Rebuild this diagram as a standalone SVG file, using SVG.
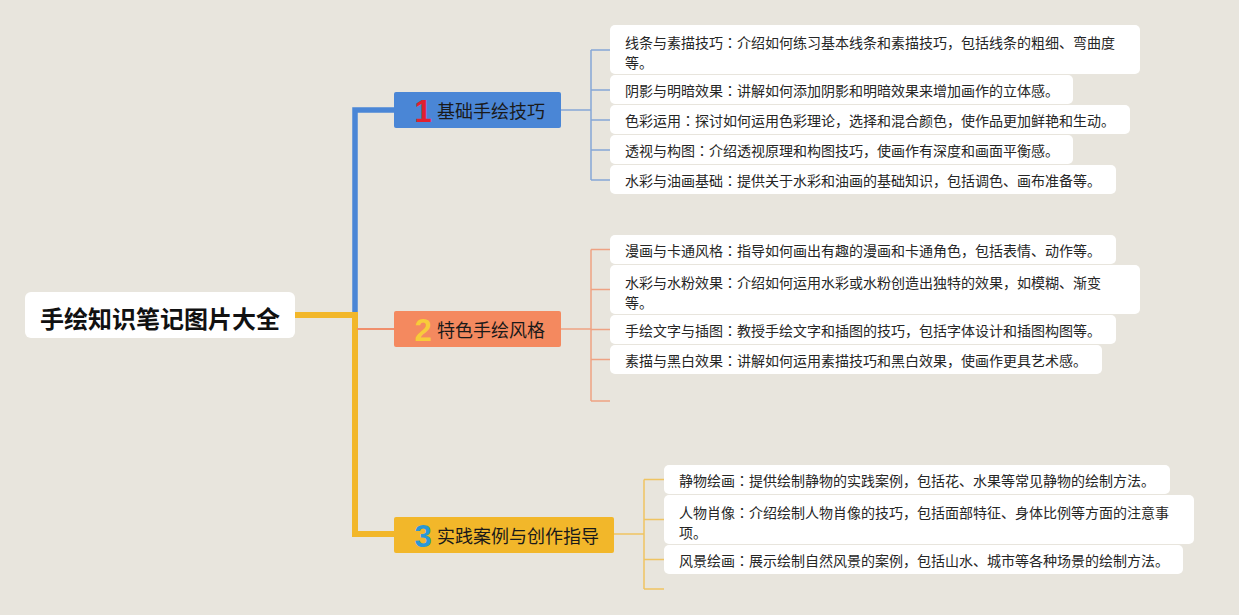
<svg xmlns="http://www.w3.org/2000/svg" width="1239" height="615" viewBox="0 0 1239 615">
<style>
.bg{fill:#e8e5dd}
.leaf{fill:#ffffff}
.lt{font-family:"Noto Sans CJK SC","Noto Sans",sans-serif;font-size:14px;fill:#262626;dominant-baseline:central}
.co{font-family:"Noto Sans CJK JP","Noto Sans CJK SC",sans-serif}
.bt{font-family:"Noto Sans CJK SC","Noto Sans",sans-serif;font-size:18px;fill:#1a1a1a;dominant-baseline:central}
.num{font-family:"Liberation Sans","DejaVu Sans",sans-serif;font-size:31px;font-weight:bold;text-anchor:middle;dominant-baseline:central}
.rt{font-family:"Noto Sans CJK SC","Noto Sans",sans-serif;font-size:24px;font-weight:bold;fill:#111;text-anchor:middle;dominant-baseline:central}
.c1{stroke:#85a6d6;stroke-width:1.5;fill:none}
.c2{stroke:#eea283;stroke-width:1.5;fill:none}
.c3{stroke:#efc462;stroke-width:1.5;fill:none}
</style>
<rect class="bg" x="0" y="0" width="1239" height="615"/>
<g id="connectors">
<polyline points="355,315 355,110 394,110" stroke="#4a86d6" stroke-width="5.5" fill="none"/>
<polyline points="295,315 355,315 355,534 394,534" stroke="#f2b72a" stroke-width="6" fill="none"/>
<line x1="357" y1="329" x2="394" y2="329" stroke="#f08f6c" stroke-width="2"/>
<path class="c1" d="M561,110H591M591,50V180M591,50H610M591,90H610M591,120H610M591,150H610M591,180H610"/>
<path class="c2" d="M561,329H591M591,249.5V401M591,249.5H610M591,289.5H610M591,329.5H610M591,359.5H610M591,401H610"/>
<path class="c3" d="M614,534H644M644,479.5V589M644,479.5H664M644,519.5H664M644,559.5H664M644,589H664"/>
</g>
<g id="root">
<rect x="25" y="292" width="270" height="46" rx="6" fill="#ffffff"/>
<text class="rt" x="160" y="317">手绘知识笔记图片大全</text>
</g>
<g id="branch1">
<rect x="394" y="92" width="167" height="36" rx="2" fill="#4a86d6"/>
<text class="num" x="423" y="111" fill="#e02030">1</text>
<text class="bt" x="437" y="110">基础手绘技巧</text>
</g>
<g id="branch2">
<rect x="394" y="311" width="167" height="36" rx="2" fill="#f4895f"/>
<text class="num" x="423" y="330" fill="#f8cb3a">2</text>
<text class="bt" x="437" y="329">特色手绘风格</text>
</g>
<g id="branch3">
<rect x="394" y="517" width="220" height="36" rx="2" fill="#f2b72a"/>
<text class="num" x="423" y="536" fill="#2a98d6">3</text>
<text class="bt" x="437" y="535">实践案例与创作指导</text>
</g>
<g id="n1a"><rect class="leaf" x="610" y="25" width="530" height="49" rx="5"/><text class="lt" x="625" y="42">线条与素描技巧<tspan class="co">：</tspan>介绍如何练习基本线条和素描技巧，包括线条的粗细、弯曲度</text><text class="lt" x="625" y="62">等。</text></g>
<g id="n1b"><rect class="leaf" x="610" y="75" width="463" height="29" rx="5"/><text class="lt" x="625" y="90">阴影与明暗效果<tspan class="co">：</tspan>讲解如何添加阴影和明暗效果来增加画作的立体感。</text></g>
<g id="n1c"><rect class="leaf" x="610" y="105" width="520" height="29" rx="5"/><text class="lt" x="625" y="120">色彩运用<tspan class="co">：</tspan>探讨如何运用色彩理论，选择和混合颜色，使作品更加鲜艳和生动。</text></g>
<g id="n1d"><rect class="leaf" x="610" y="135" width="463" height="29" rx="5"/><text class="lt" x="625" y="150">透视与构图<tspan class="co">：</tspan>介绍透视原理和构图技巧，使画作有深度和画面平衡感。</text></g>
<g id="n1e"><rect class="leaf" x="610" y="165" width="506" height="29" rx="5"/><text class="lt" x="625" y="180">水彩与油画基础<tspan class="co">：</tspan>提供关于水彩和油画的基础知识，包括调色、画布准备等。</text></g>
<g id="n2a"><rect class="leaf" x="610" y="235" width="506" height="29" rx="5"/><text class="lt" x="625" y="250">漫画与卡通风格<tspan class="co">：</tspan>指导如何画出有趣的漫画和卡通角色，包括表情、动作等。</text></g>
<g id="n2b"><rect class="leaf" x="610" y="265" width="530" height="49" rx="5"/><text class="lt" x="625" y="282">水彩与水粉效果<tspan class="co">：</tspan>介绍如何运用水彩或水粉创造出独特的效果，如模糊、渐变</text><text class="lt" x="625" y="302">等。</text></g>
<g id="n2c"><rect class="leaf" x="610" y="315" width="506" height="29" rx="5"/><text class="lt" x="625" y="330">手绘文字与插图<tspan class="co">：</tspan>教授手绘文字和插图的技巧，包括字体设计和插图构图等。</text></g>
<g id="n2d"><rect class="leaf" x="610" y="345" width="492" height="29" rx="5"/><text class="lt" x="625" y="360">素描与黑白效果<tspan class="co">：</tspan>讲解如何运用素描技巧和黑白效果，使画作更具艺术感。</text></g>
<g id="n3a"><rect class="leaf" x="664" y="465" width="506" height="29" rx="5"/><text class="lt" x="679" y="480">静物绘画<tspan class="co">：</tspan>提供绘制静物的实践案例，包括花、水果等常见静物的绘制方法。</text></g>
<g id="n3b"><rect class="leaf" x="664" y="495" width="530" height="49" rx="5"/><text class="lt" x="679" y="512">人物肖像<tspan class="co">：</tspan>介绍绘制人物肖像的技巧，包括面部特征、身体比例等方面的注意事</text><text class="lt" x="679" y="532">项。</text></g>
<g id="n3c"><rect class="leaf" x="664" y="545" width="519" height="29" rx="5"/><text class="lt" x="679" y="560">风景绘画<tspan class="co">：</tspan>展示绘制自然风景的案例，包括山水、城市等各种场景的绘制方法。</text></g>
</svg>
